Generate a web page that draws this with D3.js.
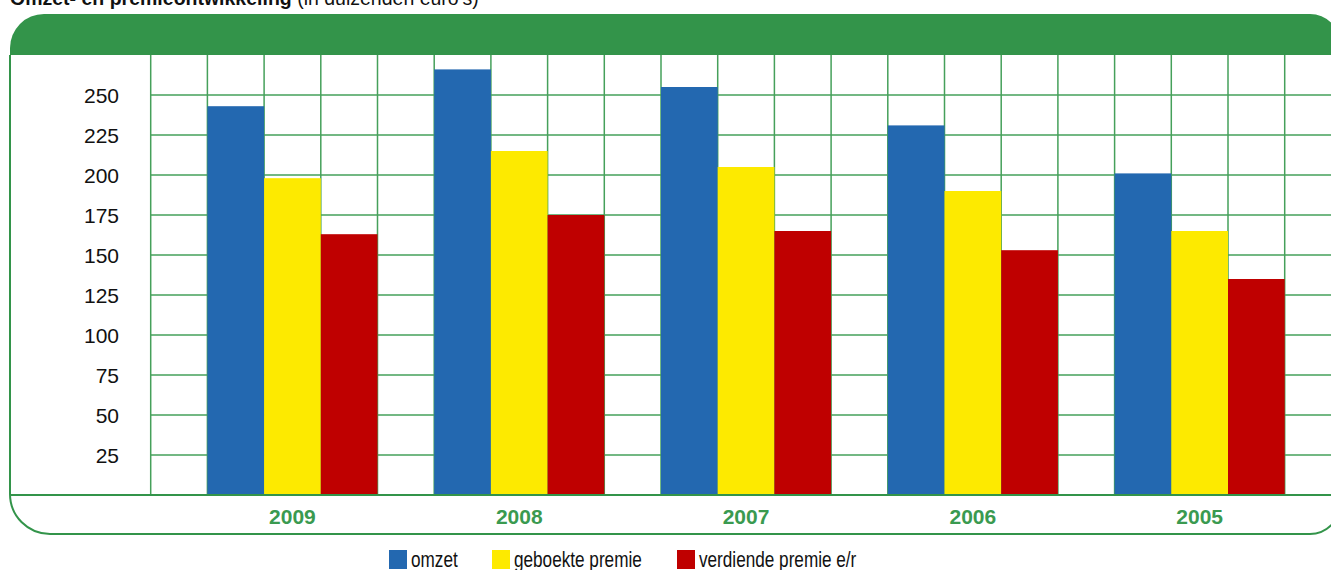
<!DOCTYPE html>
<html>
<head>
<meta charset="utf-8">
<style>
	body { margin: 0; background: #ffffff; }
	svg { display: block; }
	.ytick { font-family: 'Liberation Sans', Arial, sans-serif; font-size: 21px; fill: #111; }
	.jaar { font-family: 'Liberation Sans', Arial, sans-serif; font-size: 21px; font-weight: bold; fill: #3a9a50; }
	.leg { font-family: 'Liberation Sans', Arial, sans-serif; font-size: 22px; fill: #111; }
	.titel { font-family: 'Liberation Sans', Arial, sans-serif; font-size: 19.5px; fill: #111; }
</style>
</head>
<body>
<svg width="1331" height="570"></svg>
<script src="https://d3js.org/d3.v7.min.js"></script>
<script>

// gegevens (in duizenden euro's)
var jaren = ["2009", "2008", "2007", "2006", "2005"];
var reeksen = ["omzet", "geboekte premie", "verdiende premie e/r"];
var omzet = [243, 266, 255, 231, 201];
var geboektePremie = [198, 215, 205, 190, 165];
var verdiendePremie = [163, 175, 165, 153, 135];
var yTicks = [25, 50, 75, 100, 125, 150, 175, 200, 225, 250];
var kleuren = ["#2368b0", "#fdea00", "#bf0000"];

var waarden = [omzet, geboektePremie, verdiendePremie];
var data = jaren.map(function (j, i) {
	return { jaar: j, vals: reeksen.map(function (r, k) { return { reeks: r, waarde: waarden[k][i] }; }) };
});

var svg = d3.select("svg");
var groen = "#33944a", lijn = "#45a05a";

var links = 10, rechts = 1340,
	kopTop = 14, kopOnder = 55,
	basis = 495, voetOnder = 534;

var x0 = d3.scaleBand().domain(jaren).range([150.7, 1284.7]);
var x1 = d3.scaleBand().domain(["leeg"].concat(reeksen)).range([0, x0.bandwidth()]);
var y = d3.scaleLinear().domain([0, 250]).range([basis, 95]);

// titel (valt deels buiten beeld, net als in het origineel)
var t = svg.append("text").attr("class", "titel").attr("x", 10).attr("y", 5);
t.append("tspan").style("font-weight", "bold").text("Omzet- en premieontwikkeling");
t.append("tspan").text(" (in duizenden euro's)");

// groene kop met afgeronde hoeken
var r1 = 34, r2 = 30;
svg.append("path")
	.attr("d", "M" + links + "," + kopOnder + "V" + (kopTop + r1) +
		"A" + r1 + "," + r1 + " 0 0 1 " + (links + r1) + "," + kopTop +
		"H" + (rechts - r2) +
		"A" + r2 + "," + r2 + " 0 0 1 " + rechts + "," + (kopTop + r2) +
		"V" + kopOnder + "Z")
	.attr("fill", groen);

// rasterlijnen
var g = svg.append("g");
g.selectAll(".hlijn")
	.data(yTicks)
	.enter().append("line")
	.attr("x1", x0.range()[0]).attr("x2", rechts)
	.attr("y1", function (d) { return y(d); })
	.attr("y2", function (d) { return y(d); })
	.attr("stroke", lijn).attr("stroke-width", 1.5);

var vlijnen = [];
jaren.forEach(function (j) {
	x1.domain().forEach(function (s) { vlijnen.push(x0(j) + x1(s)); });
});
vlijnen.push(x0.range()[1], x0.range()[1] + x1.bandwidth());
g.selectAll(".vlijn")
	.data(vlijnen)
	.enter().append("line")
	.attr("x1", function (d) { return d; }).attr("x2", function (d) { return d; })
	.attr("y1", kopOnder).attr("y2", basis)
	.attr("stroke", lijn).attr("stroke-width", 1.5);

// staven
var groep = svg.selectAll(".jaar-g")
	.data(data)
	.enter().append("g")
	.attr("transform", function (d) { return "translate(" + x0(d.jaar) + ",0)"; });

groep.selectAll("rect")
	.data(function (d) { return d.vals; })
	.enter().append("rect")
	.attr("x", function (d) { return x1(d.reeks); })
	.attr("y", function (d) { return y(d.waarde); })
	.attr("width", x1.bandwidth())
	.attr("height", function (d) { return basis - y(d.waarde); })
	.attr("fill", function (d, i) { return kleuren[i]; });

// linkerrand en onderkader
var r3 = 40, r4 = 30;
svg.append("path")
	.attr("d", "M" + links + "," + kopOnder + "V" + (voetOnder - r3) +
		"A" + r3 + "," + r3 + " 0 0 0 " + (links + r3) + "," + voetOnder +
		"H" + (rechts - r4) +
		"A" + r4 + "," + r4 + " 0 0 0 " + rechts + "," + (voetOnder - r4))
	.attr("fill", "none").attr("stroke", groen).attr("stroke-width", 2);
svg.append("line")
	.attr("x1", links).attr("x2", rechts)
	.attr("y1", basis).attr("y2", basis)
	.attr("stroke", groen).attr("stroke-width", 2);

// y-as labels
svg.selectAll(".ytick")
	.data(yTicks)
	.enter().append("text")
	.attr("class", "ytick")
	.attr("x", 119)
	.attr("y", function (d) { return y(d) + 8; })
	.attr("text-anchor", "end")
	.text(function (d) { return d; });

// jaartallen
svg.selectAll(".jaar")
	.data(jaren)
	.enter().append("text")
	.attr("class", "jaar")
	.attr("x", function (d) { return x0(d) + x1(reeksen[1]) + x1.bandwidth() / 2; })
	.attr("y", 524)
	.attr("text-anchor", "middle")
	.text(function (d) { return d; });

// legenda (smalle letter nagebootst met horizontale schaal)
var legX = [389, 492, 677];
var leg = svg.selectAll(".legitem")
	.data(reeksen)
	.enter().append("g")
	.attr("transform", function (d, i) { return "translate(" + legX[i] + ",550)"; });
leg.append("rect").attr("width", 18).attr("height", 19)
	.attr("fill", function (d, i) { return kleuren[i]; });
leg.append("text").attr("class", "leg")
	.attr("transform", "translate(22,16.5) scale(0.78,1)")
	.text(function (d) { return d; });

</script>
</body>
</html>
